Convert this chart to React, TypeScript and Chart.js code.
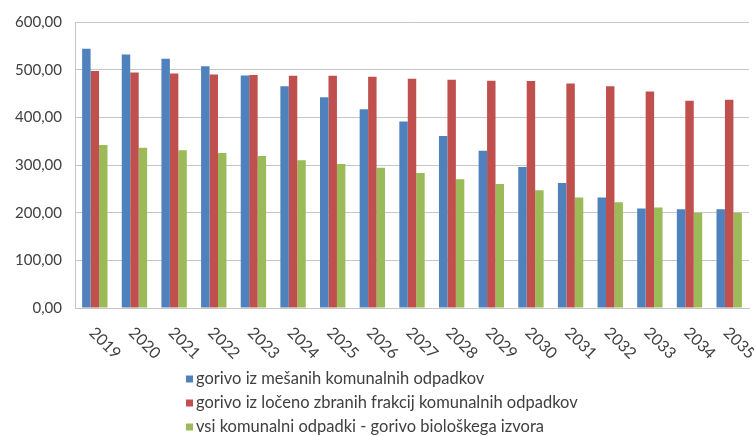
import React, { useEffect, useRef } from "react";
import { Chart, registerables } from "chart.js";

Chart.register(...registerables);

const categories = ["2019","2020","2021","2022","2023","2024","2025","2026","2027","2028","2029","2030","2031","2032","2033","2034","2035"];
const mixedWaste = [544,532,523,507,488,465,442,417,391,361,330,296,262,232,209,207,207];
const separateFractions = [497,494,492,490,489,487,487,485,481,479,477,476,471,465,454,435,437];
const allBiological = [342,336,331,325,319,310,302,294,283,270,260,247,232,222,211,200,200];
const seriesLabels = [
  "gorivo iz mešanih komunalnih odpadkov",
  "gorivo iz ločeno zbranih frakcij komunalnih odpadkov",
  "vsi komunalni odpadki - gorivo biološkega izvora",
];
const seriesColors = ["#4F81BD", "#C0504D", "#9BBB59"];

const FONT = "Lato, 'Liberation Sans', sans-serif";
const TEXT_COLOR = "#404040";
const GRID_COLOR = "#c6c6c6";

const xLabelPlugin = {
  id: "rotatedXLabels",
  afterDraw(chart: any) {
    const ctx = chart.ctx;
    const xs = chart.scales.x;
    ctx.save();
    ctx.fillStyle = TEXT_COLOR;
    ctx.font = `16px ${FONT}`;
    ctx.textAlign = "left";
    ctx.textBaseline = "middle";
    categories.forEach((lab, i) => {
      const x = xs.getPixelForTick(i);
      ctx.save();
      ctx.translate(x - 3, chart.chartArea.bottom + 22);
      ctx.rotate(Math.PI / 4);
      ctx.fillText(lab, 0, 0);
      ctx.restore();
    });
    ctx.restore();
  },
};

const legendPlugin = {
  id: "verticalLegend",
  afterDraw(chart: any) {
    const ctx = chart.ctx;
    ctx.save();
    ctx.font = `16.5px ${FONT}`;
    ctx.textAlign = "left";
    ctx.textBaseline = "middle";
    chart.data.datasets.forEach((ds: any, i: number) => {
      const y = 379 + i * 24;
      ctx.fillStyle = ds.backgroundColor;
      ctx.fillRect(186, y - 3.5, 7, 7);
      ctx.fillStyle = TEXT_COLOR;
      ctx.fillText(ds.label, 196, y);
    });
    ctx.restore();
  },
};

export default function App() {
  const ref = useRef<HTMLCanvasElement>(null);
  useEffect(() => {
    if (!ref.current) return;
    const seriesData = [mixedWaste, separateFractions, allBiological];
    const chart = new Chart(ref.current, {
      type: "bar",
      data: {
        labels: categories,
        datasets: seriesData.map((d, i) => ({
          label: seriesLabels[i],
          data: d,
          backgroundColor: seriesColors[i],
          borderWidth: 0,
          categoryPercentage: 0.64,
          barPercentage: 1,
        })),
      },
      options: {
        animation: false,
        responsive: false,
        devicePixelRatio: 1,
        layout: { padding: { left: 0, right: 5, top: 22, bottom: 0 } },
        plugins: { legend: { display: false }, tooltip: { enabled: false } },
        scales: {
          x: {
            grid: { display: false },
            border: { display: true, color: GRID_COLOR, width: 1 },
            ticks: { display: false },
            afterFit: (s: any) => { s.height = 128; },
          },
          y: {
            min: 0,
            max: 600,
            grid: { color: GRID_COLOR, lineWidth: 1, drawTicks: false },
            border: { display: true, color: GRID_COLOR, width: 1 },
            ticks: {
              stepSize: 100,
              padding: 13,
              color: TEXT_COLOR,
              font: { family: FONT, size: 15 },
              callback: (v: any) => Number(v).toFixed(2).replace(".", ","),
            },
            afterFit: (s: any) => { s.width = 75; },
          },
        },
      },
      plugins: [xLabelPlugin, legendPlugin],
    });
    return () => chart.destroy();
  }, []);
  return (
    <div style={{ position: "fixed", left: 0, top: 0, width: 754, height: 436, background: "#fff" }}>
      <canvas ref={ref} width={754} height={436} />
    </div>
  );
}
